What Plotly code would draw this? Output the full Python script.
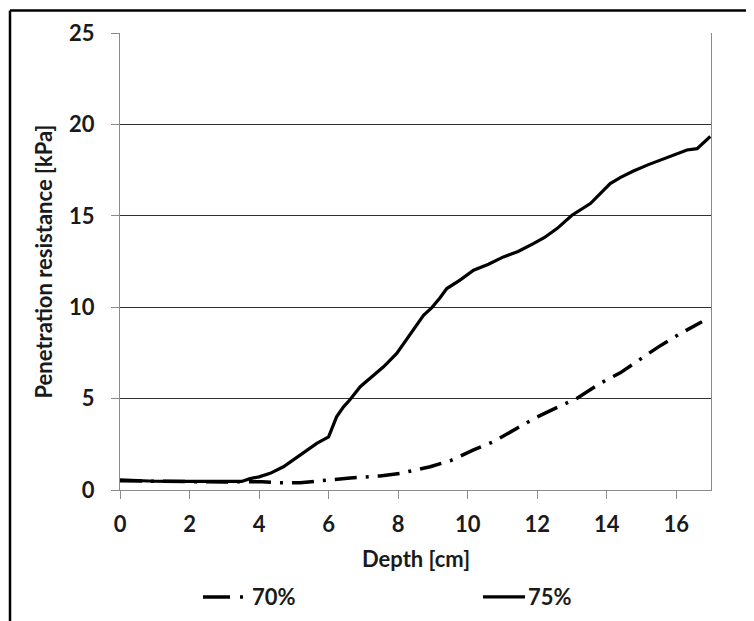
import plotly.graph_objects as go

# ---- data ----
depth_75 = [0, 0.5, 1, 1.5, 2, 2.5, 3, 3.5, 3.74, 4.0, 4.32, 4.7, 5.18, 5.66, 6.0, 6.23, 6.43,
            6.62, 6.91, 7.25, 7.58, 7.96, 8.35, 8.73, 8.97, 9.2, 9.4, 9.78, 10.17, 10.6, 11.03,
            11.45, 11.89, 12.2, 12.57, 13.0, 13.53, 14.1, 14.4, 14.77, 15.2, 15.64, 16.0, 16.31,
            16.6, 16.98]
res_75 = [0.55, 0.5, 0.48, 0.47, 0.47, 0.46, 0.45, 0.47, 0.62, 0.72, 0.91, 1.27, 1.91, 2.55, 2.91,
          4.0, 4.55, 4.95, 5.65, 6.2, 6.74, 7.47, 8.56, 9.56, 9.98, 10.5, 11.02, 11.48, 12.02,
          12.35, 12.75, 13.05, 13.48, 13.8, 14.3, 15.03, 15.67, 16.76, 17.1, 17.45, 17.8, 18.12,
          18.4, 18.6, 18.67, 19.34]

depth_70 = [0, 1, 2, 3, 3.7, 4.08, 4.6, 5.18, 6.04, 6.62, 7.48, 8.06, 8.92, 9.5, 10.17, 10.74,
            11.41, 12.0, 12.66, 13.14, 13.81, 14.39, 15.06, 15.49, 16.12, 16.74]
res_70 = [0.5, 0.47, 0.46, 0.44, 0.45, 0.45, 0.40, 0.40, 0.55, 0.66, 0.77, 0.91, 1.27, 1.6, 2.19,
          2.64, 3.37, 4.0, 4.59, 5.01, 5.83, 6.41, 7.28, 7.83, 8.56, 9.2]

series_names = ["70%", "75%"]
x_title = "Depth [cm]"
y_title = "Penetration resistance [kPa]"

# ---- layout geometry (reference pixels; page body adds an 8px margin) ----
OFF = 8
W, H = 754 - OFF, 621 - OFF
L, R, T, B = 120 - OFF, 711 - OFF, 32.5 - OFF, 490 - OFF
pw, ph = R - L, B - T


def px(x):
    return (x - OFF - L) / pw


def py(y):
    return (B - (y - OFF)) / ph


FONT = "Lato"
DASH70 = "22px,9px,3px,9px"

fig = go.Figure()
fig.add_trace(go.Scatter(x=depth_70, y=res_70, mode="lines", name=series_names[0],
                         line=dict(color="black", width=3.5, dash=DASH70), showlegend=False))
fig.add_trace(go.Scatter(x=depth_75, y=res_75, mode="lines", name=series_names[1],
                         line=dict(color="black", width=3.2), showlegend=False))

tickfont = dict(family=FONT, size=22, color="#1a1a1a", weight="bold")

fig.update_layout(
    width=W, height=H,
    margin=dict(l=L, r=W - R, t=T, b=H - B, pad=0),
    paper_bgcolor="white", plot_bgcolor="white",
    xaxis=dict(range=[0, 17], dtick=2, tick0=0, showgrid=False, zeroline=False,
               showline=True, linecolor="#8a8a8a", linewidth=1.2,
               ticks="outside", ticklen=8, tickcolor="#8a8a8a", tickwidth=1.2,
               tickfont=tickfont, ticklabelstandoff=6),
    yaxis=dict(range=[0, 25], dtick=5, tick0=0, showgrid=True, gridcolor="#303030", gridwidth=1,
               zeroline=False, showline=True, linecolor="#8a8a8a", linewidth=1.2, mirror=True,
               ticks="outside", ticklen=8, tickcolor="#8a8a8a", tickwidth=1.2,
               tickfont=tickfont, ticklabelstandoff=12),
    showlegend=False,
)

# axis titles
title_font = dict(family=FONT, size=22, color="#1a1a1a", weight="bold")
fig.add_annotation(text=x_title, xref="paper", yref="paper", x=0.5, y=py(559),
                   xanchor="center", yanchor="middle", showarrow=False, font=title_font)
fig.add_annotation(text=y_title, xref="paper", yref="paper", x=px(43), y=0.5, textangle=-90,
                   xanchor="center", yanchor="middle", showarrow=False, font=title_font)

# legend (drawn manually to match sample length)
leg_y = py(597)
fig.add_shape(type="line", xref="paper", yref="paper", x0=px(203), x1=px(246), y0=leg_y, y1=leg_y,
              line=dict(color="black", width=3.5, dash="27px,10px,3px,10px"))
fig.add_annotation(text=series_names[0], xref="paper", yref="paper", x=px(250), y=leg_y,
                   xanchor="left", yanchor="middle", showarrow=False, font=title_font)
fig.add_shape(type="line", xref="paper", yref="paper", x0=px(483), x1=px(525), y0=leg_y, y1=leg_y,
              line=dict(color="black", width=3.2))
fig.add_annotation(text=series_names[1], xref="paper", yref="paper", x=px(526), y=leg_y,
                   xanchor="left", yanchor="middle", showarrow=False, font=title_font)

# outer frame (left and top edges visible)
fig.add_shape(type="line", xref="paper", yref="paper", x0=px(10), x1=px(10), y0=py(10), y1=py(640),
              line=dict(color="black", width=2.5))
fig.add_shape(type="line", xref="paper", yref="paper", x0=px(10), x1=px(780), y0=py(10), y1=py(10),
              line=dict(color="black", width=2.5))

fig.write_html("out.html")
